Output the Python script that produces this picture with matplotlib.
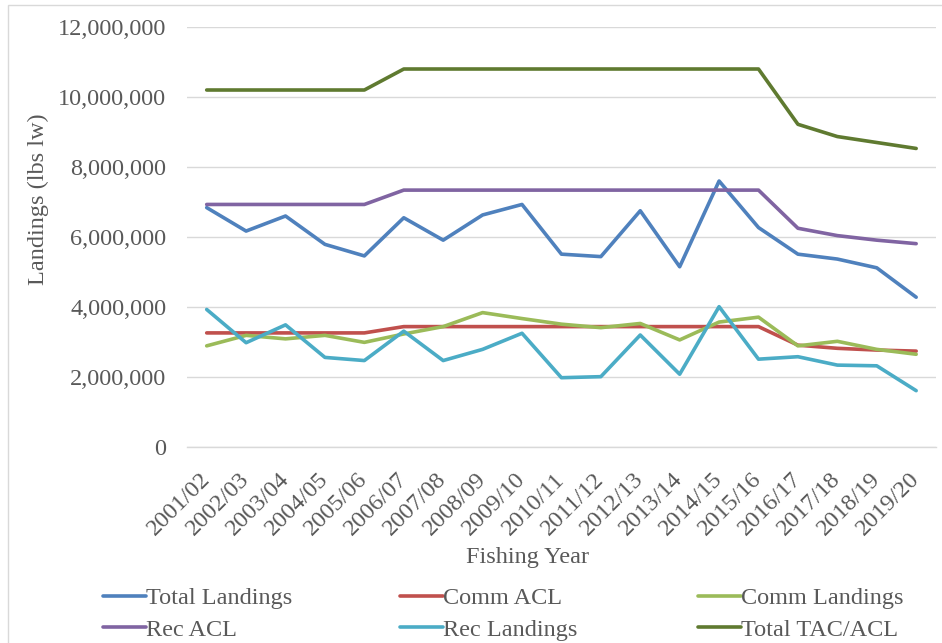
import matplotlib
matplotlib.use("Agg")
import matplotlib.pyplot as plt
from matplotlib.ticker import FuncFormatter, MultipleLocator
from matplotlib.patches import Rectangle

years = ["2001/02", "2002/03", "2003/04", "2004/05", "2005/06", "2006/07", "2007/08",
         "2008/09", "2009/10", "2010/11", "2011/12", "2012/13", "2013/14", "2014/15",
         "2015/16", "2016/17", "2017/18", "2018/19", "2019/20"]

total_landings = [6840000, 6170000, 6600000, 5790000, 5460000, 6550000, 5910000, 6630000,
                  6930000, 5510000, 5440000, 6750000, 5150000, 7600000, 6270000, 5510000,
                  5370000, 5120000, 4280000]
comm_acl = [3260000, 3260000, 3260000, 3260000, 3260000, 3440000, 3440000, 3440000,
            3440000, 3440000, 3440000, 3440000, 3440000, 3440000, 3440000, 2910000,
            2820000, 2770000, 2740000]
comm_landings = [2890000, 3190000, 3090000, 3190000, 2990000, 3230000, 3440000, 3840000,
                 3670000, 3510000, 3410000, 3530000, 3060000, 3570000, 3710000, 2890000,
                 3020000, 2790000, 2650000]
rec_acl = [6930000, 6930000, 6930000, 6930000, 6930000, 7340000, 7340000, 7340000,
           7340000, 7340000, 7340000, 7340000, 7340000, 7340000, 7340000, 6250000,
           6040000, 5910000, 5810000]
rec_landings = [3930000, 2980000, 3490000, 2560000, 2470000, 3310000, 2470000, 2790000,
                3250000, 1980000, 2010000, 3200000, 2080000, 4010000, 2510000, 2580000,
                2340000, 2320000, 1610000]
total_tac = [10200000, 10200000, 10200000, 10200000, 10200000, 10800000, 10800000, 10800000,
             10800000, 10800000, 10800000, 10800000, 10800000, 10800000, 10800000, 9220000,
             8870000, 8700000, 8530000]

series = [
    ("Total Landings", total_landings, "#4F81BD"),
    ("Comm ACL", comm_acl, "#C0504D"),
    ("Comm Landings", comm_landings, "#9BBB59"),
    ("Rec ACL", rec_acl, "#8064A2"),
    ("Rec Landings", rec_landings, "#4BACC6"),
    ("Total TAC/ACL", total_tac, "#5F7A30"),
]

plt.rcParams['font.family'] = ['Liberation Serif', 'DejaVu Serif']
FS = 17.5
GREY = '#595959'

fig = plt.figure(figsize=(9.42, 6.43), dpi=100)
ax = fig.add_axes([0.1985, 0.3048, 0.795, 0.6532])

x = list(range(len(years)))
lines = []
for i, (name, vals, col) in enumerate(series):
    ln, = ax.plot(x, vals, color=col, lw=2.6, label=name, zorder=3 + i,
                  solid_capstyle='round', solid_joinstyle='round')
    lines.append(ln)

ax.set_xlim(-0.5, len(years) - 0.5)
ax.set_ylim(0, 12000000)
ax.yaxis.set_major_locator(MultipleLocator(2000000))
ax.yaxis.set_major_formatter(FuncFormatter(lambda v, p: f"{int(v):,}"))
ax.grid(axis='y', color='#D9D9D9', lw=1.0, zorder=0)
ax.set_axisbelow(True)
for s in ['top', 'right', 'left']:
    ax.spines[s].set_visible(False)
ax.spines['bottom'].set_color('#D9D9D9')
ax.spines['bottom'].set_linewidth(1.0)

ax.set_xticks(x)
ax.set_xticklabels(years, rotation=45, ha='right', va='center', rotation_mode='anchor')
ax.tick_params(axis='both', length=0, labelsize=FS, colors=GREY)
ax.tick_params(axis='y', pad=15)
ax.tick_params(axis='x', pad=21)

fig.text(38 / 942, 1 - 199 / 643, "Landings (lbs lw)", rotation=90, ha='center', va='center',
         fontsize=FS, color=GREY)
fig.text(528 / 942, 1 - 557 / 643, "Fishing Year", ha='center', va='center', fontsize=FS,
         color=GREY)

# legend: three columns, row-wise order
col_x = [103, 400, 698]
for c in range(3):
    hs = [lines[c], lines[c + 3]]
    leg = fig.legend(hs, [h.get_label() for h in hs], loc='center left',
                     bbox_to_anchor=(col_x[c] / 942, 1 - 614 / 643), ncol=1,
                     frameon=False, fontsize=FS, handlelength=1.75, handletextpad=0.0,
                     labelspacing=0.4, borderpad=0, borderaxespad=0, labelcolor=GREY)

fig.patches.append(Rectangle((8 / 942, -0.01), 1.0, 1 - 5 / 643 + 0.01,
                             transform=fig.transFigure, fill=False, edgecolor='#D9D9D9', lw=1.0))

fig.savefig("out.png", dpi=100)
